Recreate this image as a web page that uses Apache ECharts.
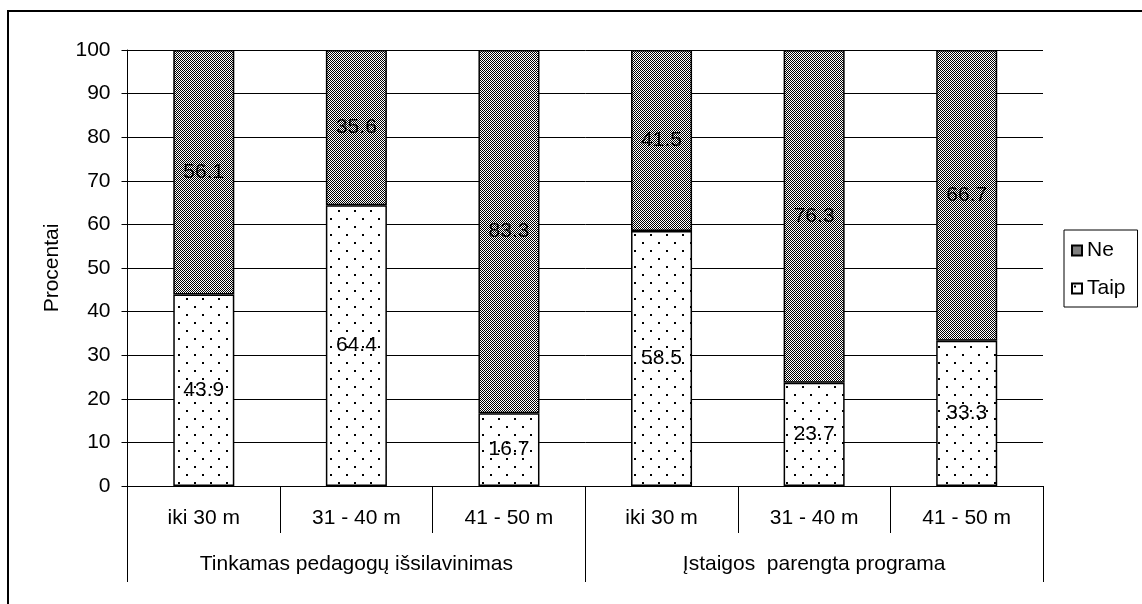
<!DOCTYPE html>
<html>
<head>
<meta charset="utf-8">
<script src="https://cdn.jsdelivr.net/npm/echarts@6/dist/echarts.min.js"></script>
<style>html,body{margin:0;padding:0;background:#fff}#c{width:1142px;height:604px}</style>
</head>
<body>
<div id="c"></div>
<script>
var categories = ['iki 30 m', '31 - 40 m', '41 - 50 m', 'iki 30 m', '31 - 40 m', '41 - 50 m'];
var groups = ['Tinkamas pedagogų išsilavinimas', 'Įstaigos  parengta programa'];
var taip = [43.9, 64.4, 16.7, 58.5, 23.7, 33.3];
var ne = [56.1, 35.6, 83.3, 41.5, 76.3, 66.7];
var yTicks = [0, 10, 20, 30, 40, 50, 60, 70, 80, 90, 100];

function checker() {
  var c = document.createElement('canvas'); c.width = 2; c.height = 2;
  var g = c.getContext('2d');
  g.fillStyle = '#fff'; g.fillRect(0, 0, 2, 2);
  g.fillStyle = '#000'; g.fillRect(0, 0, 1, 1); g.fillRect(1, 1, 1, 1);
  return c;
}
function dots() {
  var c = document.createElement('canvas'); c.width = 16; c.height = 16;
  var g = c.getContext('2d');
  g.fillStyle = '#fff'; g.fillRect(0, 0, 16, 16);
  g.fillStyle = '#000'; g.fillRect(2, 2, 2, 2); g.fillRect(10, 10, 2, 2);
  return c;
}
var FONT = "'Liberation Sans', Arial, sans-serif";
var FS = 21;
var chart = echarts.init(document.getElementById('c'), null, {renderer: 'canvas'});
var labelStyle = {show: true, position: 'inside', color: '#000', fontSize: FS, fontFamily: FONT, textBorderWidth: 0, formatter: function (p) { return p.value.toFixed(1); }};
chart.setOption({
  animation: false,
  backgroundColor: '#fff',
  textStyle: {fontFamily: FONT},
  graphic: [{type: 'rect', shape: {x: 8, y: 11, width: 1300, height: 800}, style: {fill: 'none', stroke: '#000', lineWidth: 2}, z: 100}],
  grid: {left: 127.5, right: 99, top: 50, bottom: 118},
  legend: {
    orient: 'vertical', left: 1064, top: 230, data: ['Ne', 'Taip'],
    borderColor: '#000', borderWidth: 1, padding: [10, 12, 8, 7], itemGap: 17,
    itemWidth: 10, itemHeight: 10, icon: 'rect',
    textStyle: {fontSize: FS, fontFamily: FONT, color: '#000', lineHeight: 21}
  },
  xAxis: [{
    type: 'category', data: categories, position: 'bottom',
    axisLine: {lineStyle: {color: '#000', width: 1}},
    axisTick: {show: true, interval: 0, length: 47, lineStyle: {color: '#000'}},
    axisLabel: {interval: 0, margin: 22, fontSize: FS, fontFamily: FONT, color: '#000'}
  }, {
    type: 'category', data: groups, position: 'bottom',
    axisLine: {show: false},
    axisTick: {show: true, interval: 0, length: 96, lineStyle: {color: '#000'}},
    axisLabel: {interval: 0, margin: 68, fontSize: FS, fontFamily: FONT, color: '#000'}
  }],
  yAxis: {
    type: 'value', min: yTicks[0], max: yTicks[yTicks.length - 1], interval: 10,
    name: 'Procentai', nameLocation: 'middle', nameRotate: 90, nameGap: 65,
    nameTextStyle: {fontSize: FS, fontFamily: FONT, color: '#000'},
    axisLine: {show: true, lineStyle: {color: '#000'}},
    axisTick: {show: true, length: 6, lineStyle: {color: '#000'}},
    axisLabel: {margin: 17, fontSize: FS, fontFamily: FONT, color: '#000'},
    splitLine: {show: true, lineStyle: {color: '#000', width: 1}}
  },
  series: [{
    name: 'Taip', type: 'bar', stack: 's', data: taip, barCategoryGap: '60%',
    itemStyle: {color: {image: dots(), repeat: 'repeat'}, borderColor: '#000', borderWidth: 1.5},
    label: labelStyle
  }, {
    name: 'Ne', type: 'bar', stack: 's', data: ne, barCategoryGap: '60%',
    itemStyle: {color: {image: checker(), repeat: 'repeat'}, borderColor: '#000', borderWidth: 1.5},
    label: labelStyle
  }]
});
</script>
</body>
</html>
